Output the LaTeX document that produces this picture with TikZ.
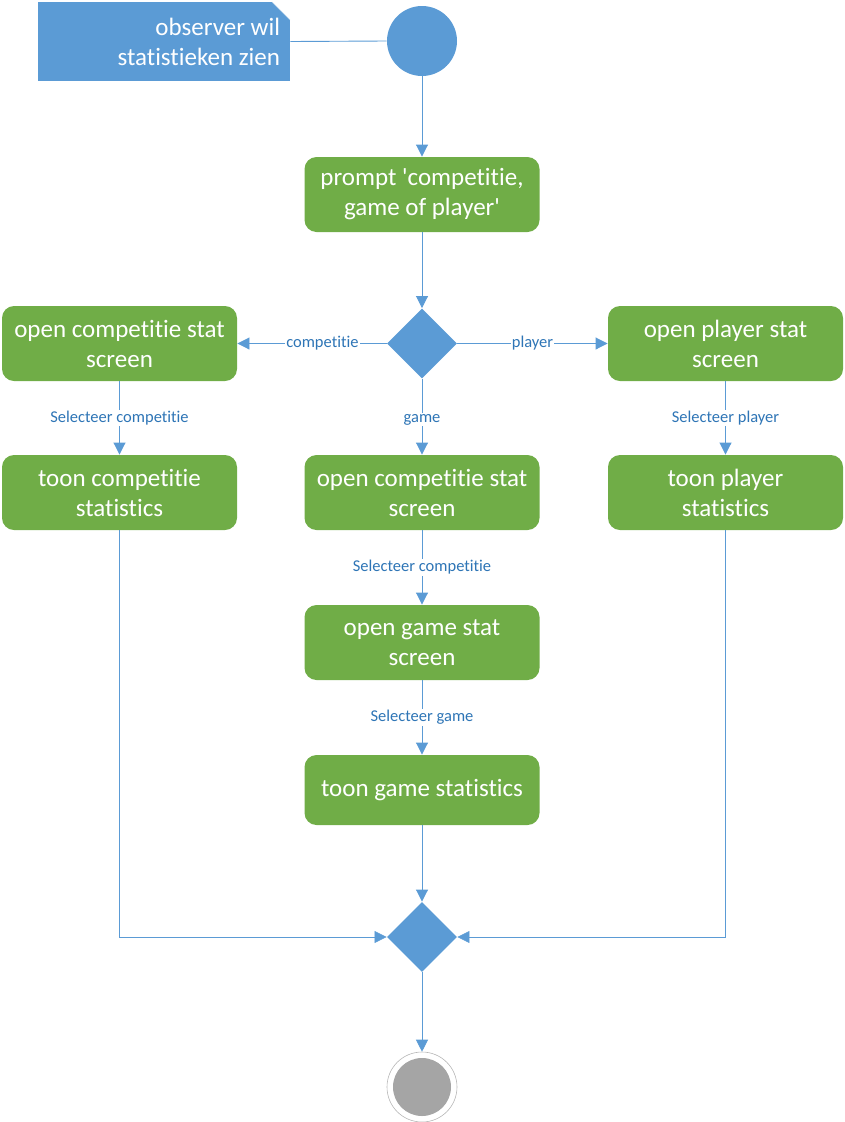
\documentclass[tikz,border=0pt]{standalone}
\usepackage{fontspec}
\setmainfont[Ligatures=NoCommon]{Carlito}
\usetikzlibrary{arrows.meta,shapes.geometric}
\definecolor{umlblue}{RGB}{91,155,213}
\definecolor{umlgreen}{RGB}{112,173,71}
\definecolor{labelblue}{RGB}{46,117,182}
\definecolor{endgray}{RGB}{165,165,165}

\begin{document}
\begin{tikzpicture}[x=1pt,y=-1pt,line width=0.9pt,
    flow/.style={color=umlblue,-{Triangle[length=12pt,width=12pt]}},
    action/.style={shape=rectangle, rounded corners=12pt, fill=umlgreen,
        text=white, align=center, minimum width=235pt, minimum height=75pt,
        font=\fontsize{25}{30}\selectfont, inner sep=0pt},
    choice/.style={shape=diamond, fill=umlblue, minimum size=70pt, inner sep=0pt},
    guard/.style={font=\fontsize{16.5}{18}\selectfont, text=labelblue,
        fill=white, inner sep=1pt}]
    \useasboundingbox (0,0) rectangle (845,1122);

    \node[fill=umlblue, text=white, minimum width=252pt, minimum height=79pt,
        text width=232pt, align=flush right, inner sep=0pt,
        font=\fontsize{25}{30}\selectfont] (note) at (164,41.5)
        {observer wil\\statistieken zien};
    \fill[white] (272,2) -- (290.5,2) -- (290.5,20) -- cycle;
    \draw[umlblue!45, line width=0.6pt] (272,2) -- (290,20);

    \node[circle, fill=umlblue, minimum size=70pt, inner sep=0pt] (start) at (422,41) {};
    \node[action] (prompt) at (422,194.5)
        {prompt \textquotesingle competitie,\\game of player\textquotesingle};
    \node[choice] (split) at (422,343.5) {};

    \node[action] (opencomp) at (119.5,343.5) {open competitie stat\\screen};
    \node[action] (openplay) at (725.5,343.5) {open player stat\\screen};
    \node[action] (tooncomp) at (119.5,492.5) {toon competitie\\statistics};
    \node[action] (opengcomp) at (422,492.5) {open competitie stat\\screen};
    \node[action] (toonplay) at (725.5,492.5) {toon player\\statistics};
    \node[action] (opengame) at (422,642.5) {open game stat\\screen};
    \node[action, minimum height=70pt] (toongame) at (422,790) {toon game statistics};

    \node[choice] (merge) at (422,937) {};
    \node[circle, draw=endgray!80, line width=0.6pt, minimum size=70pt,
        inner sep=0pt] (stop) at (422,1087) {};
    \fill[endgray] (stop) circle[radius=29pt];

    \draw[umlblue] (note.east) -- (start.west);
    \path[flow]
        (start) edge (prompt)
        (prompt) edge (split)
        (split) edge node[guard, pos=0.43] {competitie} (opencomp)
        (split) edge node[guard] {player} (openplay)
        (split) edge node[guard, yshift=-3pt] {game} (opengcomp)
        (opencomp) edge node[guard] {Selecteer competitie} (tooncomp)
        (openplay) edge node[guard] {Selecteer player} (toonplay)
        (opengcomp) edge node[guard] {Selecteer competitie} (opengame)
        (opengame) edge node[guard] {Selecteer game} (toongame)
        (toongame) edge (merge)
        (merge) edge (stop);
    \draw[flow, line width=0.6pt] (tooncomp.south) |- (merge.west);
    \draw[flow, line width=0.6pt] (toonplay.south) |- (merge.east);
\end{tikzpicture}
\end{document}
